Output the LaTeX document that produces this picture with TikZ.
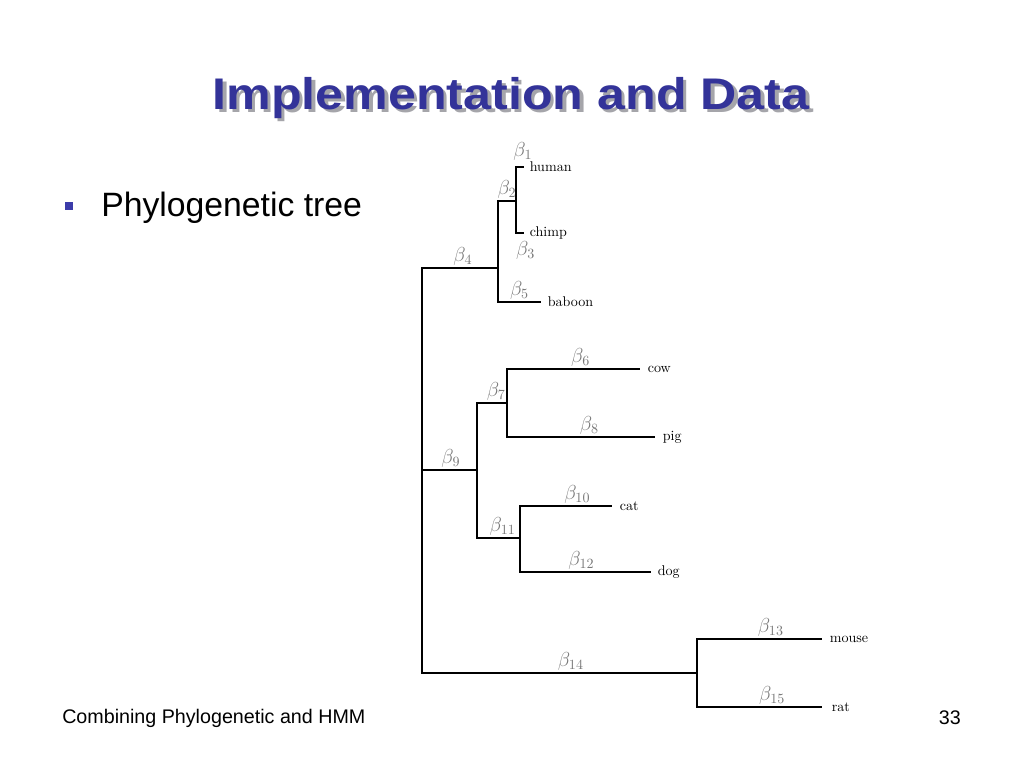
\documentclass[tikz,border=0pt]{standalone}
\usepackage{fontspec}
\usepackage{amsmath}
\usepackage{xcolor}
\usetikzlibrary{positioning,calc}
\newfontfamily\arialfont{Liberation Sans}
\definecolor{TitleBlue}{RGB}{51,51,153}
\definecolor{ShadowGray}{RGB}{165,165,170}
\definecolor{BulletBlue}{RGB}{60,60,170}
\definecolor{BetaGray}{RGB}{120,120,120}
\tikzset{
  br/.style={black,line width=0.75pt},
  blab/.style={text=BetaGray,font=\fontsize{14}{16}\selectfont,inner sep=1.5pt},
  taxon/.style={anchor=west,font=\fontsize{10}{12}\selectfont,inner sep=2.5pt},
  ttl/.style={font=\arialfont\bfseries\fontsize{35}{40}\selectfont,inner sep=0pt},
  foot/.style={font=\arialfont\fontsize{14}{16}\selectfont,inner sep=0pt},
}

\begin{document}
\begin{tikzpicture}[x=0.025cm,y=-0.025cm]
        \useasboundingbox[fill=white] (0,0) rectangle (1024,768);
        % title and bullet
        \node[ttl,text=ShadowGray] (ttlsh) at (514.5,101.5) {\scalebox{1.02}[0.9]{Implementation and Data}};
        \node[ttl,text=TitleBlue] (ttl) at (511,98) {\scalebox{1.02}[0.9]{Implementation and Data}};
        \node[fill=BulletBlue,inner sep=0pt,minimum width=5.7pt,minimum height=5.7pt] (bul) at (69,206) {};
        \node[font=\arialfont\fontsize{24}{28}\selectfont,anchor=west,inner sep=0pt] (item) at (101,208) {Phylogenetic tree};
        % tree nodes
        \coordinate (r) at (422,470);
        \coordinate (n4) at (498,268);
        \coordinate (n2) at (516,201);
        \coordinate (lhuman) at (524,167);
        \coordinate (lchimp) at (524,233);
        \coordinate (lbaboon) at (541,302);
        \coordinate (n9) at (477,470);
        \coordinate (n7) at (507,403);
        \coordinate (lcow) at (640,369);
        \coordinate (lpig) at (655,437);
        \coordinate (n11) at (520,538);
        \coordinate (lcat) at (612,506);
        \coordinate (ldog) at (651,572);
        \coordinate (n14) at (697,673);
        \coordinate (lmouse) at (822,639);
        \coordinate (lrat) at (822,707);
        % branches
        \draw[br] (r)--(n9) node[blab,midway,above,xshift=1pt]{$\beta_9$};
        \draw[br] (r)|-(n4) node[blab,pos=0.75,above,xshift=2pt]{$\beta_4$};
        \draw[br] (r)|-(n14) node[blab,pos=0.75,above,xshift=8pt]{$\beta_{14}$};
        \draw[br] (n4)|-(n2) node[blab,pos=0.75,above]{$\beta_2$};
        \draw[br] (n4)|-(lbaboon) node[blab,pos=0.75,above]{$\beta_5$};
        \draw[br] (n2)|-(lhuman) node[blab,pos=0.75,above,xshift=2pt,yshift=3pt]{$\beta_1$};
        \draw[br] (n2)|-(lchimp) node[blab,pos=0.75,below,xshift=4pt,yshift=-4pt]{$\beta_3$};
        \draw[br] (n9)|-(n7) node[blab,pos=0.75,above,xshift=3pt]{$\beta_7$};
        \draw[br] (n9)|-(n11) node[blab,pos=0.75,above,xshift=3pt]{$\beta_{11}$};
        \draw[br] (n7)|-(lcow) node[blab,pos=0.75,above,xshift=5pt]{$\beta_6$};
        \draw[br] (n7)|-(lpig) node[blab,pos=0.75,above,xshift=6pt]{$\beta_8$};
        \draw[br] (n11)|-(lcat) node[blab,pos=0.75,above,xshift=8pt]{$\beta_{10}$};
        \draw[br] (n11)|-(ldog) node[blab,pos=0.75,above,xshift=-3pt]{$\beta_{12}$};
        \draw[br] (n14)|-(lmouse) node[blab,pos=0.75,above,xshift=8pt]{$\beta_{13}$};
        \draw[br] (n14)|-(lrat) node[blab,pos=0.75,above,xshift=9pt]{$\beta_{15}$};
        % taxa
        \node[taxon] (human) at ($(lhuman)+(2,0)$) {human};
        \node[taxon] (chimp) at ($(lchimp)+(2,0)$) {chimp};
        \node[taxon] (baboon) at ($(lbaboon)+(3,0)$) {baboon};
        \node[taxon] (cow) at ($(lcow)+(4,0)$) {cow};
        \node[taxon] (pig) at ($(lpig)+(4,0)$) {pig};
        \node[taxon] (cat) at ($(lcat)+(4,0)$) {cat};
        \node[taxon] (dog) at ($(ldog)+(3,0)$) {dog};
        \node[taxon] (mouse) at ($(lmouse)+(4,0)$) {mouse};
        \node[taxon] (rat) at ($(lrat)+(6,0)$) {rat};
        % footer
        \node[foot,anchor=west] (ftl) at (62,718) {Combining Phylogenetic and HMM};
        \node[foot,anchor=east] (ftr) at (961,718) {33};
      \end{tikzpicture}
\end{document}
